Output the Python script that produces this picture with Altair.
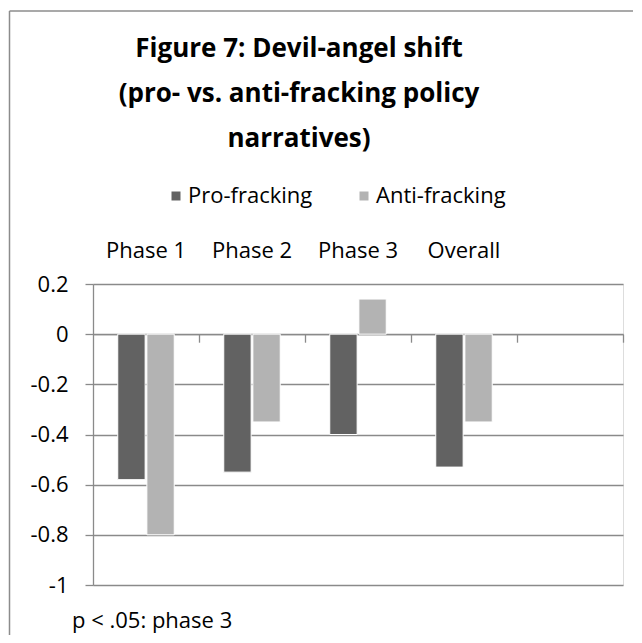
import altair as alt
import pandas as pd

categories = ["Phase 1", "Phase 2", "Phase 3", "Overall"]
axis_domain = ["Phase 1", "Phase 2", "Phase 3", "Overall", " "]
series = ["Pro-fracking", "Anti-fracking"]
pro_values = [-0.58, -0.55, -0.40, -0.53]
anti_values = [-0.80, -0.35, 0.14, -0.35]
y_ticks = [-1, -0.8, -0.6, -0.4, -0.2, 0, 0.2]
title_lines = ["Figure 7: Devil-angel shift", "(pro- vs. anti-fracking policy", "narratives)"]
footnote = ["p < .05: phase 3"]

rows = []
for c, p, a in zip(categories, pro_values, anti_values):
    rows.append({"category": c, "series": series[0], "value": p})
    rows.append({"category": c, "series": series[1], "value": a})
df = pd.DataFrame(rows)

FONT = "Open Sans"
GRID = "#8a8a8a"
W, H = 530, 301

xscale = alt.Scale(domain=axis_domain, paddingInner=0, paddingOuter=0)
yscale = alt.Scale(domain=[-1, 0.2], nice=False, zero=False)

bars = alt.Chart(df).mark_bar(stroke="white", strokeWidth=1).encode(
    x=alt.X("category:N", scale=xscale, sort=axis_domain,
            axis=alt.Axis(orient="bottom", offset=-250.8, labels=False, title=None,
                          domain=True, domainColor=GRID, domainWidth=1.3,
                          ticks=True, tickColor=GRID, tickWidth=1.3, tickSize=8,
                          bandPosition=1, grid=False)),
    xOffset=alt.XOffset("series:N", sort=series,
                        scale=alt.Scale(paddingInner=0.06, paddingOuter=0.85)),
    y=alt.Y("value:Q", scale=yscale,
            axis=alt.Axis(values=y_ticks, labelExpr="'' + datum.value", title=None,
                          grid=True, gridColor=GRID, gridWidth=1.3,
                          domain=True, domainColor=GRID, domainWidth=1.3,
                          ticks=True, tickColor=GRID, tickWidth=1.3, tickSize=8,
                          labelPadding=17, labelFont=FONT, labelFontSize=22,
                          labelColor="#000000")),
    y2=alt.datum(0),
    color=alt.Color("series:N", sort=series,
                    scale=alt.Scale(domain=series, range=["#626262", "#b3b3b3"]),
                    legend=alt.Legend(orient="none", legendX=72, legendY=-99,
                                      direction="horizontal", title=None,
                                      symbolType="square", symbolSize=81,
                                      symbolStrokeWidth=0, labelFont=FONT,
                                      labelFontSize=22, labelColor="#000000",
                                      labelOffset=1, columnPadding=40, padding=0)),
)

top_labels = alt.Chart(df).mark_bar(opacity=0).encode(
    x=alt.X("category:N", scale=xscale, sort=axis_domain,
            axis=alt.Axis(orient="top", labels=True, title=None, domain=False,
                          ticks=False, tickSize=0, labelPadding=22, grid=False,
                          labelFont=FONT, labelFontSize=22, labelColor="#000000",
                          labelAngle=0)),
    y=alt.Y("value:Q", scale=yscale),
)

note = alt.Chart(pd.DataFrame({"t": footnote})).mark_text(
    align="left", baseline="alphabetic", font=FONT, fontSize=22, color="#000000"
).encode(text="t:N", x=alt.value(-21), y=alt.value(344))

frame = pd.DataFrame({"k": [0]})
border_left = alt.Chart(frame).mark_rule(color="#8c8c8c", strokeWidth=1.5).encode(
    x=alt.value(-83.5), y=alt.value(-273), y2=alt.value(400))
border_top = alt.Chart(frame).mark_rule(color="#8c8c8c", strokeWidth=1.5).encode(
    x=alt.value(-83.5), x2=alt.value(600), y=alt.value(-273))

chart = alt.layer(bars, top_labels, note, border_left, border_top).resolve_axis(
    x="independent"
).properties(
    width=W, height=H,
    title=alt.TitleParams(text=title_lines, font=FONT, fontSize=26, fontWeight="bold",
                          color="#000000", anchor="middle", dx=-59, dy=142,
                          lineHeight=45, offset=0),
    autosize=alt.AutoSizeParams(type="none"),
    padding={"left": 85, "top": 276, "right": 10, "bottom": 50},
).configure_view(stroke=None).configure(background="white")

chart.save("out.html", embed_options={"renderer": "svg", "actions": False})
